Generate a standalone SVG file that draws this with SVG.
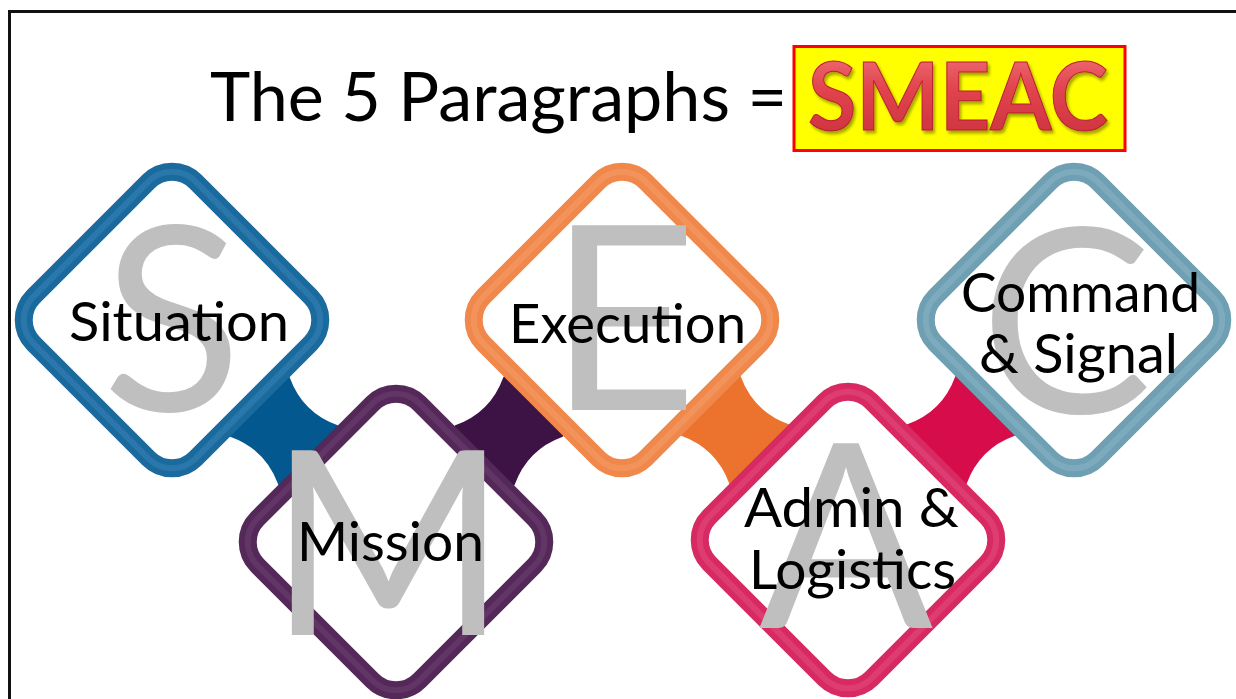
<svg xmlns="http://www.w3.org/2000/svg" width="1236" height="699" viewBox="0 0 1236 699">
<style>
  .lbl { font-family: Lato, "Open Sans", "Liberation Sans", sans-serif; font-size: 54px; fill: #000; }
  .big { font-family: Lato, "Open Sans", "Liberation Sans", sans-serif; font-weight: 400; font-size: 258px; fill: #BFBFBF; text-anchor: middle; }
  .ring { fill: #FFFFFF; stroke-width: 18; }
  .ringhi { fill: none; stroke-width: 6; opacity: 0.35; }
</style>
<defs>
  <path id="bar" d="M-62,-43 L-34,-42 Q0,-26 34,-42 L62,-43 L62,43 L34,42 Q0,26 -34,42 L-62,43 Z"/>
  <rect id="sq" x="-114.5" y="-114.5" width="229" height="229" rx="33" ry="33"/>
  <linearGradient id="smeacFill" x1="0" y1="0" x2="0" y2="1">
    <stop offset="0" stop-color="#F47C84"/>
    <stop offset="0.45" stop-color="#E2444E"/>
    <stop offset="1" stop-color="#C72F3C"/>
  </linearGradient>
  <filter id="shadow" x="-10%" y="-10%" width="130%" height="140%">
    <feGaussianBlur in="SourceAlpha" stdDeviation="1.5"/>
    <feOffset dx="2" dy="3" result="b"/>
    <feComponentTransfer><feFuncA type="linear" slope="0.35"/></feComponentTransfer>
    <feMerge><feMergeNode/><feMergeNode in="SourceGraphic"/></feMerge>
  </filter>
</defs>
<rect width="1236" height="699" fill="#FFFFFF"/>
<path d="M9.5,699 V11.5 H1236" fill="none" stroke="#111111" stroke-width="3"/>

<g id="title">
  <text x="210" y="121" font-family="Lato, 'Open Sans', 'Liberation Sans', sans-serif" font-size="68" fill="#000" textLength="577" lengthAdjust="spacingAndGlyphs">The 5 Paragraphs =</text>
  <rect x="794" y="46.5" width="331" height="104" fill="#FFFF00" stroke="#FF0000" stroke-width="3"/>
  <text x="808" y="130" font-family="Lato, 'Open Sans', 'Liberation Sans', sans-serif" font-weight="bold" font-size="93" fill="url(#smeacFill)" stroke="#B8202E" stroke-width="1" textLength="300" lengthAdjust="spacingAndGlyphs" filter="url(#shadow)">SMEAC</text>
</g>

<g id="connectors">
  <use href="#bar" transform="translate(284,431) rotate(45)" fill="#03598F"/>
  <use href="#bar" transform="translate(509,431) rotate(-45)" fill="#3D1245"/>
  <use href="#bar" transform="translate(735,430) rotate(45)" fill="#EC732E"/>
  <use href="#bar" transform="translate(961,430) rotate(-45)" fill="#D70C4B"/>
</g>

<g id="situation">
  <use href="#sq" class="ring" stroke="#1A6A9E" transform="translate(172,320) rotate(45)"/>
  <use href="#sq" class="ringhi" stroke="#4A93C2" transform="translate(172,320) rotate(45)"/>
  <text class="big" x="172" y="411">S</text>
  <text class="lbl" x="69" y="341" textLength="220" lengthAdjust="spacingAndGlyphs">Situation</text>
</g>

<g id="mission">
  <use href="#sq" class="ring" stroke="#542858" transform="translate(396,542) rotate(45)"/>
  <use href="#sq" class="ringhi" stroke="#7A4C7E" transform="translate(396,542) rotate(45)"/>
  <text class="big" x="388" y="635">M</text>
  <text class="lbl" x="297" y="561" textLength="187" lengthAdjust="spacingAndGlyphs">Mission</text>
</g>

<g id="execution">
  <use href="#sq" class="ring" stroke="#F0884C" transform="translate(622,320) rotate(45)"/>
  <use href="#sq" class="ringhi" stroke="#F8AA7A" transform="translate(622,320) rotate(45)"/>
  <text class="big" x="623" y="410">E</text>
  <text class="lbl" x="509" y="343" textLength="237" lengthAdjust="spacingAndGlyphs">Execution</text>
</g>

<g id="admin">
  <use href="#sq" class="ring" stroke="#D82A62" transform="translate(848,540) rotate(45)"/>
  <use href="#sq" class="ringhi" stroke="#E8628E" transform="translate(848,540) rotate(45)"/>
  <text class="big" x="846" y="628">A</text>
  <text class="lbl" x="744" y="527" textLength="215" lengthAdjust="spacingAndGlyphs">Admin &amp;</text>
  <text class="lbl" x="749" y="589" textLength="207" lengthAdjust="spacingAndGlyphs">Logistics</text>
</g>

<g id="command">
  <use href="#sq" class="ring" stroke="#6E9FB3" transform="translate(1074,320) rotate(45)"/>
  <use href="#sq" class="ringhi" stroke="#9CC2D1" transform="translate(1074,320) rotate(45)"/>
  <text class="big" x="1066" y="413">C</text>
  <text class="lbl" x="961" y="312" textLength="239" lengthAdjust="spacingAndGlyphs">Command</text>
  <text class="lbl" x="979" y="373" textLength="199" lengthAdjust="spacingAndGlyphs">&amp; Signal</text>
</g>
</svg>
